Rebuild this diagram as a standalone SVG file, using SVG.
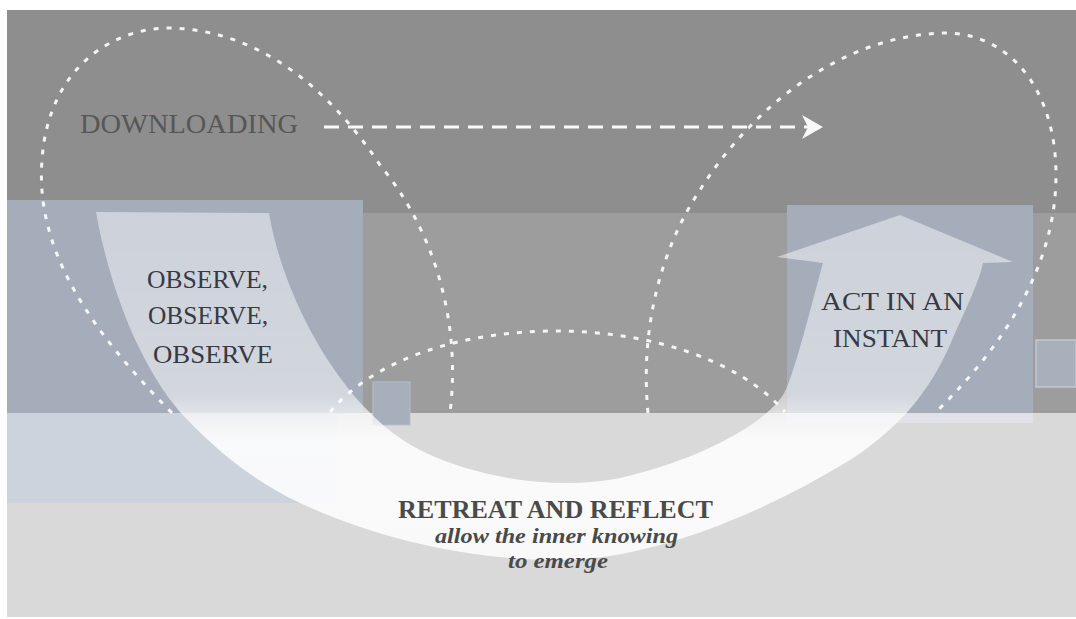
<svg xmlns="http://www.w3.org/2000/svg" width="1076" height="619" viewBox="0 0 1076 619">
  <defs>
    <style>
      .lbl { font-family: "Liberation Serif", "DejaVu Serif", serif; }
      .cap { font-size: 26px; fill: #363a44; }
      .dl { font-size: 27px; fill: #575757; }
      .rt { font-size: 26px; font-weight: bold; fill: #4a4a4a; }
      .it { font-size: 21px; font-weight: bold; font-style: italic; fill: #4a4a4a; }
      .dots { fill: none; stroke: #ffffff; stroke-width: 3; stroke-dasharray: 5 8; opacity: 0.9; }
      .dash { fill: none; stroke: #ffffff; stroke-width: 3; stroke-dasharray: 15 9; opacity: 0.95; }
      .box { fill: #a5adbb; }
    </style>
    <linearGradient id="ugrad" gradientUnits="userSpaceOnUse" x1="0" y1="212" x2="0" y2="560">
      <stop offset="0" stop-color="#ffffff" stop-opacity="0.45"/>
      <stop offset="0.52" stop-color="#ffffff" stop-opacity="0.5"/>
      <stop offset="0.66" stop-color="#ffffff" stop-opacity="0.88"/>
      <stop offset="1" stop-color="#ffffff" stop-opacity="0.85"/>
    </linearGradient>
    <marker id="head" viewBox="0 0 22 26" refX="20" refY="13" markerWidth="22" markerHeight="26" markerUnits="userSpaceOnUse" orient="auto">
      <path d="M0,1 L21,13 L0,25 L6,13 Z" fill="#ffffff"/>
    </marker>
  </defs>

  <!-- background bands -->
  <g id="background">
    <rect x="0" y="0" width="1076" height="619" fill="#ffffff"/>
    <rect x="7" y="10" width="1069" height="203" fill="#8e8e8e"/>
    <rect x="7" y="213" width="1069" height="200" fill="#9d9d9d"/>
    <rect x="7" y="413" width="1069" height="204" fill="#d9d9d9"/>
    <rect x="7" y="200" width="356" height="213" class="box"/>
    <rect x="7" y="413" width="330" height="90" fill="#cdd3dc"/>
    <rect x="787" y="205" width="246" height="208" class="box"/>
    <rect x="787" y="413" width="246" height="10" fill="#dfe2e7"/>
    <rect x="373" y="382" width="37" height="43" fill="#a7afbc" stroke="#b8bec8" stroke-width="1"/>
    <rect x="1036" y="340" width="40" height="47" fill="#a9b0bc" stroke="#c2c7cf" stroke-width="1.5"/>
  </g>

  <!-- big U-shaped arrow -->
  <g id="u-arrow">
    <path fill="url(#ugrad)" d="M96,212 C110,290 140,365 180,412 C215,450 255,482 300,503 C380,540 470,560 560,560 C650,560 760,515 850,460 C900,428 930,390 950,345 C965,310 978,285 983,263 L1013,262 L900,215 L777,257 L823,263 C810,310 798,360 787,387 C775,420 700,460 620,478 C560,490 480,480 420,450 C370,425 330,370 305,320 C290,290 275,250 269,213 Z"/>
  </g>

  <!-- connectors -->
  <g id="connectors">
    <path class="dots" d="M172,413 C90,330 35,250 42,160 C48,70 110,28 170,28 C260,30 330,90 380,165 C430,225 462,315 450,413"/>
    <path class="dots" d="M648,413 C640,330 660,250 700,190 C750,110 840,35 945,33 C1010,33 1056,90 1056,175 C1056,260 1010,340 935,413"/>
    <path class="dots" d="M330,412 C420,304 690,304 785,412"/>
    <path class="dash" d="M324,127 L822,127" marker-end="url(#head)"/>
  </g>

  <g id="downloading">
    <text class="lbl dl" x="80" y="133" textLength="218" lengthAdjust="spacingAndGlyphs">DOWNLOADING</text>
  </g>

  <g id="observe">
    <text class="lbl cap" x="147" y="288" textLength="121" lengthAdjust="spacingAndGlyphs">OBSERVE,</text>
    <text class="lbl cap" x="148" y="324" textLength="120" lengthAdjust="spacingAndGlyphs">OBSERVE,</text>
    <text class="lbl cap" x="153" y="363" textLength="120" lengthAdjust="spacingAndGlyphs">OBSERVE</text>
  </g>

  <g id="act">
    <text class="lbl cap" x="821" y="310" textLength="143" lengthAdjust="spacingAndGlyphs">ACT IN AN</text>
    <text class="lbl cap" x="833" y="347" textLength="114" lengthAdjust="spacingAndGlyphs">INSTANT</text>
  </g>

  <g id="retreat">
    <text class="lbl rt" x="398" y="518" textLength="315" lengthAdjust="spacingAndGlyphs">RETREAT AND REFLECT</text>
    <text class="lbl it" x="435" y="543" textLength="243" lengthAdjust="spacingAndGlyphs">allow the inner knowing</text>
    <text class="lbl it" x="508" y="568" textLength="100" lengthAdjust="spacingAndGlyphs">to emerge</text>
  </g>
</svg>
